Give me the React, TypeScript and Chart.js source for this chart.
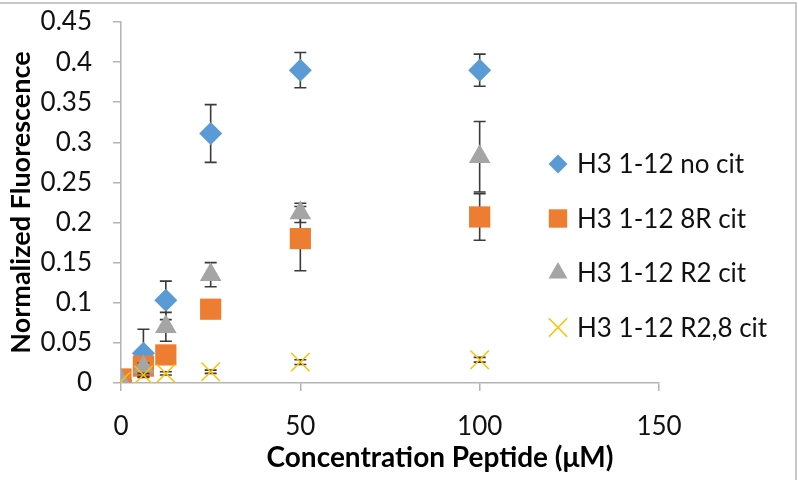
import React, { useEffect, useRef } from 'react';
import { Chart, registerables } from 'chart.js';
import { drawPoint } from 'chart.js/helpers';

Chart.register(...registerables);

const concentrations = [0, 6.25, 12.5, 25, 50, 100];
const seriesNames = ['H3 1-12 no cit', 'H3 1-12 8R cit', 'H3 1-12 R2 cit', 'H3 1-12 R2,8 cit'];
const noCit = [0.003, 0.037, 0.103, 0.311, 0.39, 0.39];
const noCitErr = [0, 0.03, 0.024, 0.036, 0.022, 0.02];
const r8Cit = [0.005, 0.021, 0.035, 0.092, 0.18, 0.207];
const r8CitErr = [0, 0.004, 0.004, 0.004, 0.04, 0.029];
const r2Cit = [0.003, 0.02, 0.07, 0.135, 0.212, 0.282];
const r2CitErr = [0, 0.005, 0.018, 0.015, 0.012, 0.044];
const r28Cit = [0.002, 0.01, 0.012, 0.014, 0.026, 0.029];
const r28CitErr = [0, 0.002, 0.002, 0.002, 0.003, 0.003];
const yTickLabels = ['0', '0.05', '0.1', '0.15', '0.2', '0.25', '0.3', '0.35', '0.4', '0.45'];
const xTickLabels = ['0', '50', '100', '150'];
const xTitle = 'Concentration Peptide (μM)';
const yTitle = 'Normalized Fluorescence';

const FONT = 'Lato';
const AXIS_COLOR = '#b4b4b4';
const TEXT_COLOR = '#111111';

export default function App() {
  const ref = useRef<HTMLCanvasElement | null>(null);

  useEffect(() => {
    if (!ref.current) return;
    const values = [noCit, r8Cit, r2Cit, r28Cit];
    const errors = [noCitErr, r8CitErr, r2CitErr, r28CitErr];
    const colors = ['#5B9BD5', '#ED7D31', '#A5A5A5', '#FFC000'];
    const styles = ['rectRot', 'rect', 'triangle', 'crossRot'];
    const radii = [11.5, 15, 12.5, 13];
    const legendRadii = [9.5, 13, 11, 13];

    const errorBars = {
      id: 'errorBars',
      beforeDatasetDraw(chart: any, args: any) {
        const i = args.index;
        const meta = args.meta;
        const ys = chart.scales.y;
        const ctx = chart.ctx;
        ctx.save();
        ctx.strokeStyle = '#3a3a3a';
        ctx.lineWidth = 1.6;
        meta.data.forEach((el: any, j: number) => {
          const e = errors[i][j];
          if (!e) return;
          const v = values[i][j];
          const top = ys.getPixelForValue(v + e);
          const bot = ys.getPixelForValue(v - e);
          const x = el.x;
          ctx.beginPath();
          ctx.moveTo(x, top);
          ctx.lineTo(x, bot);
          ctx.moveTo(x - 6, top);
          ctx.lineTo(x + 6, top);
          ctx.moveTo(x - 6, bot);
          ctx.lineTo(x + 6, bot);
          ctx.stroke();
        });
        ctx.restore();
      },
    };

    const decorations = {
      id: 'decorations',
      afterDraw(chart: any) {
        const ctx = chart.ctx;
        const area = chart.chartArea;
        ctx.save();
        // outer frame
        ctx.strokeStyle = '#c8c8c8';
        ctx.lineWidth = 2;
        ctx.beginPath();
        ctx.moveTo(0, 3);
        ctx.lineTo(796, 3);
        ctx.lineTo(796, 480);
        ctx.stroke();
        // axis titles
        ctx.fillStyle = '#000';
        ctx.textAlign = 'center';
        ctx.textBaseline = 'middle';
        ctx.font = `bold 28px ${FONT}`;
        ctx.fillText(xTitle, 440, 458);
        ctx.font = `bold 27px ${FONT}`;
        ctx.save();
        ctx.translate(21, (area.top + area.bottom) / 2);
        ctx.rotate(-Math.PI / 2);
        ctx.fillText(yTitle, 0, 0);
        ctx.restore();
        // legend
        ctx.font = `26px ${FONT}`;
        ctx.textAlign = 'left';
        chart.data.datasets.forEach((ds: any, i: number) => {
          const y = 164 + i * 54.5;
          ctx.fillStyle = colors[i];
          ctx.strokeStyle = colors[i];
          ctx.lineWidth = 1.5;
          drawPoint(ctx, { pointStyle: styles[i], rotation: 0, radius: legendRadii[i], borderWidth: styles[i] === 'crossRot' ? 1.5 : 0 }, 558, y);
          ctx.fillStyle = TEXT_COLOR;
          ctx.fillText(ds.label, 577, y + 1);
        });
        ctx.restore();
      },
    };

    const chart = new Chart(ref.current, {
      type: 'scatter',
      data: {
        datasets: values.map((vals, i) => ({
          label: seriesNames[i],
          data: concentrations.map((x, j) => ({ x, y: vals[j] })),
          pointStyle: styles[i] as any,
          pointRadius: radii[i],
          pointHoverRadius: radii[i],
          backgroundColor: colors[i],
          borderColor: colors[i],
          borderWidth: styles[i] === 'crossRot' ? 1.5 : 0,
          showLine: false,
          order: 4 - i,
        })),
      },
      options: {
        animation: false,
        responsive: false,
        events: [],
        layout: { padding: { left: 0, top: 22, right: 139, bottom: 0 } },
        plugins: { legend: { display: false }, tooltip: { enabled: false } },
        scales: {
          x: {
            type: 'linear',
            min: 0,
            max: 150,
            afterFit: (s: any) => { s.height = 97; s.paddingLeft = 0; s.paddingRight = 0; },
            ticks: {
              stepSize: 50,
              callback: (_v: any, i: number) => xTickLabels[i],
              font: { family: FONT, size: 26 },
              color: TEXT_COLOR,
              padding: 20,
            },
            grid: { drawOnChartArea: false, drawTicks: true, tickLength: 8, color: AXIS_COLOR, lineWidth: 1.5 },
            border: { display: true, color: AXIS_COLOR, width: 1.5 },
          },
          y: {
            type: 'linear',
            min: 0,
            max: 0.45,
            afterFit: (s: any) => { s.width = 121; s.paddingTop = 0; s.paddingBottom = 0; },
            ticks: {
              stepSize: 0.05,
              callback: (_v: any, i: number) => yTickLabels[i],
              font: { family: FONT, size: 26 },
              color: TEXT_COLOR,
              padding: 21,
            },
            grid: { drawOnChartArea: false, drawTicks: true, tickLength: 8, color: AXIS_COLOR, lineWidth: 1.5 },
            border: { display: true, color: AXIS_COLOR, width: 1.5 },
          },
        },
      },
      plugins: [errorBars, decorations],
    });
    return () => chart.destroy();
  }, []);

  return (
    <div style={{ position: 'absolute', left: 0, top: 0, width: 798, height: 480, background: '#fff' }}>
      <canvas ref={ref} width={798} height={480} style={{ display: 'block' }} />
    </div>
  );
}
